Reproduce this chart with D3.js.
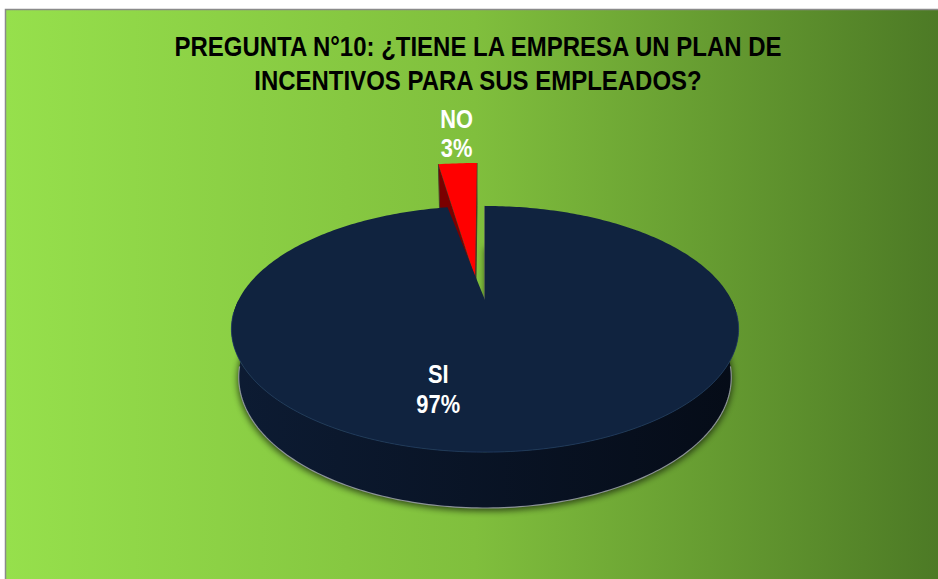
<!DOCTYPE html>
<html>
<head>
<meta charset="utf-8">
<script src="https://cdn.jsdelivr.net/npm/d3@7"></script>
<style>
  html, body { margin: 0; padding: 0; background: #ffffff; }
  svg { display: block; }
</style>
</head>
<body>
<svg id="chart" width="938" height="579"></svg>
<script>
// ---- data ----
const categories = ["SI", "NO"];
const values = [97, 3];
const percentLabels = ["97%", "3%"];
const titleLines = [
  "PREGUNTA N°10: ¿TIENE LA EMPRESA UN PLAN DE",
  "INCENTIVOS PARA SUS EMPLEADOS?"
];
const sliceColors = ["#10233f", "#ff0000"];
const wallColors = [["#0d1c34", "#050b16"], ["#7c0000", "#4a0000"]];

// ---- layout ----
const W = 938, H = 579;
const FONT = "'Liberation Sans Narrow', 'Arial Narrow', 'Liberation Sans', Arial, sans-serif";
const svg = d3.select("#chart");
const defs = svg.append("defs");

// condense text horizontally (narrow bold look)
function condense(sel, factor) {
  sel.each(function () {
    const len = this.getComputedTextLength();
    d3.select(this).attr("textLength", len * factor).attr("lengthAdjust", "spacingAndGlyphs");
  });
}

// background panel with horizontal green gradient
const bg = defs.append("linearGradient").attr("id", "bgGrad")
  .attr("x1", "0%").attr("x2", "100%").attr("y1", "0%").attr("y2", "0%");
[["0%", "#96e04c"], ["50%", "#80bf3d"], ["100%", "#4c7925"]].forEach(([o, c]) =>
  bg.append("stop").attr("offset", o).attr("stop-color", c));
svg.append("rect")
  .attr("x", 5.5).attr("y", 9.5).attr("width", W).attr("height", H)
  .attr("fill", "url(#bgGrad)").attr("stroke", "#8a8a8a").attr("stroke-width", 1.5);

// ---- title ----
const title = svg.append("g").attr("font-family", FONT).attr("font-weight", "bold")
  .attr("font-size", 28).attr("fill", "#000").attr("text-anchor", "middle");
const titleText = title.selectAll("text").data(titleLines).join("text")
  .attr("x", 478).attr("y", (d, i) => 56 + i * 34)
  .text(d => d);
const firstLen = titleText.node().getComputedTextLength();
condense(titleText, 607 / firstLen);

// ---- 3D camera (perspective) ----
const tilt = Math.asin(0.4716);
const cam = { cx: 485, cy: 300, focal: 921, dist: 1, sin: Math.sin(tilt), cos: Math.cos(tilt) };
const radius = 0.2676, depth = 0.0598;
const xScale = d3.scaleLinear().domain([0, 1]).range([cam.cx, cam.cx + cam.focal]);
const yScale = d3.scaleLinear().domain([0, 1]).range([cam.cy, cam.cy - cam.focal]);

function project(X, Y, Z) {
  const yc = Y * cam.cos + Z * cam.sin;
  const zc = cam.dist + Z * cam.cos - Y * cam.sin;
  return [xScale(X / zc), yScale(yc / zc)];
}

// per-slice placement: explode offset, lift and forward tilt of the exploded slice
const placement = [
  { ox: 0, oz: 0, lift: 0, rise: 0 },
  { ox: -0.0107, oz: 0, lift: 0.0279, rise: 0.122 }
];

function pt(i, theta, r, h) {
  const p = placement[i];
  const X = r * Math.sin(theta) + p.ox;
  const Z = r * Math.cos(theta) + p.oz;
  const Y = h + p.lift + p.rise * r;
  return project(X, Y, Z);
}

function arcPts(i, a0, a1, r, h) {
  const n = Math.max(2, Math.ceil(Math.abs(a1 - a0) / (Math.PI / 180)));
  return d3.range(n + 1).map(k => pt(i, a0 + (a1 - a0) * k / n, r, h));
}

const line = d3.line();
const closed = pts => line(pts) + "Z";

const arcs = d3.pie().sort(null).startAngle(0).endAngle(2 * Math.PI)(values);

// filters & gradients
const blur = defs.append("filter").attr("id", "shadow")
  .attr("x", "-10%").attr("y", "-10%").attr("width", "120%").attr("height", "130%");
blur.append("feGaussianBlur").attr("stdDeviation", 3);

arcs.forEach((a, i) => {
  const g = defs.append("linearGradient").attr("id", "wall" + i)
    .attr("gradientUnits", "userSpaceOnUse")
    .attr("x1", xScale(-0.3)).attr("x2", xScale(0.3)).attr("y1", 0).attr("y2", 0);
  g.append("stop").attr("offset", "0%").attr("stop-color", wallColors[i][0]);
  g.append("stop").attr("offset", "100%").attr("stop-color", wallColors[i][1]);
});

const pie = svg.append("g");

// draw a slice: soft shadow, outer wall (near side), radial walls, top face
function drawSlice(i, opts) {
  const a = arcs[i];
  const g = pie.append("g");
  const a0 = a.startAngle, a1 = a.endAngle;

  if (opts.shadow) {
    const base = [pt(i, 0, 0, -depth)].concat(arcPts(i, a0, a1, radius * 1.005, -depth));
    g.append("path")
      .attr("d", closed(base))
      .attr("fill", "#000").attr("opacity", 0.6)
      .attr("transform", "translate(0,2)")
      .attr("filter", "url(#shadow)");
  }

  // outer wall on the near side
  const w0 = Math.max(a0, Math.PI / 2), w1 = Math.min(a1, 3 * Math.PI / 2);
  if (w1 > w0) {
    const top = arcPts(i, w0, w1, radius, 0);
    const bot = arcPts(i, w0, w1, radius, -depth).reverse();
    g.append("path").attr("d", closed(top.concat(bot)))
      .attr("fill", `url(#wall${i})`);
    g.append("path").attr("d", line(arcPts(i, w0 + 0.15, w1 - 0.15, radius, -depth)))
      .attr("fill", "none").attr("stroke", "#9da3aa").attr("stroke-width", 1.2).attr("opacity", 0.85);
  }

  // radial walls
  opts.walls.forEach(w => {
    const th = w === "start" ? a0 : a1;
    const quad = [pt(i, th, 0, 0), pt(i, th, radius, 0), pt(i, th, radius, -depth), pt(i, th, 0, -depth)];
    g.append("path").attr("d", closed(quad))
      .attr("fill", opts.wallFill).attr("stroke", opts.wallStroke).attr("stroke-width", 1);
  });

  // top face
  const face = [pt(i, 0, 0, 0)].concat(arcPts(i, a0, a1, radius, 0));
  g.append("path").attr("d", closed(face)).attr("fill", sliceColors[i]);

  if (w1 > w0) {
    g.append("path").attr("d", line(arcPts(i, w0 + 0.1, w1 - 0.1, radius, 0)))
      .attr("fill", "none").attr("stroke", "#25426b").attr("stroke-width", 1).attr("opacity", 0.7);
  }
}

// exploded NO slice sits behind the main slice
drawSlice(1, { walls: ["start", "end"], wallFill: "#7a0000", wallStroke: "#44402a" });
drawSlice(0, { shadow: true, walls: ["start"], wallFill: "#3c4148", wallStroke: "#4a4f55" });

// ---- labels ----
const labels = svg.append("g").attr("font-family", FONT).attr("font-weight", "bold")
  .attr("font-size", 26).attr("fill", "#ffffff").attr("text-anchor", "middle");

// SI label on the top face
const siAnchor = pt(0, 194 * Math.PI / 180, radius * 0.665, 0);
labels.append("text").attr("x", siAnchor[0]).attr("y", siAnchor[1] - 5).text(categories[0]);
labels.append("text").attr("x", siAnchor[0]).attr("y", siAnchor[1] + 25).text(percentLabels[0]);

// NO label above the exploded slice
const noMid = (arcs[1].startAngle + arcs[1].endAngle) / 2;
const noAnchor = pt(1, noMid, radius, 0);
labels.append("text").attr("x", noAnchor[0] - 1).attr("y", noAnchor[1] - 35).text(categories[1]);
labels.append("text").attr("x", noAnchor[0] - 1).attr("y", noAnchor[1] - 6).text(percentLabels[1]);

condense(labels.selectAll("text"), 0.84);
</script>
</body>
</html>
